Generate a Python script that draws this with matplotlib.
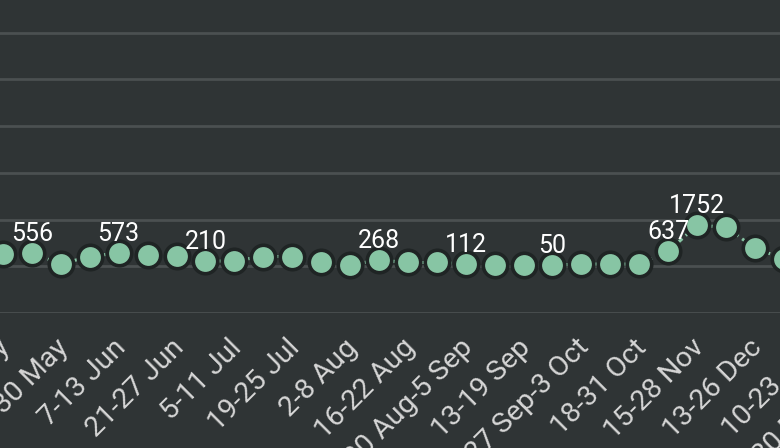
import matplotlib
matplotlib.use("Agg")
import matplotlib.pyplot as plt
import matplotlib.transforms as mtransforms

# ---- data ----
tick_labels = ["10-16 May", "24-30 May", "7-13 Jun", "21-27 Jun", "5-11 Jul",
               "19-25 Jul", "2-8 Aug", "16-22 Aug", "30 Aug-5 Sep", "13-19 Sep",
               "27 Sep-3 Oct", "18-31 Oct", "15-28 Nov", "13-26 Dec", "10-23 Jan",
               "20 Mar-2 Apr"]
values = [532, 556, 106, 417, 573, 502, 447, 210, 234, 417, 417, 162, 64, 268,
          162, 162, 112, 64, 64, 50, 94, 94, 94, 637, 1752, 1680, 774, 320]
labelled_idx = [1, 4, 7, 13, 16, 19, 23, 24]
grid_levels = [-2000, 0, 2000, 4000, 6000, 8000, 10000]

BG = "#2f3435"
GREEN = "#87c5a4"
GRID = "#4b5051"

W, H = 780, 448
fig = plt.figure(figsize=(W / 100, H / 100), dpi=100, facecolor=BG)

step = 28.92
x0_px = 3.0
xmin, xmax = -1, 31
left_px = x0_px + step * xmin
right_px = x0_px + step * xmax
top_px, bottom_px = 0, 313
ax = fig.add_axes([left_px / W, (H - bottom_px) / H,
                   (right_px - left_px) / W, (bottom_px - top_px) / H])
ax.set_facecolor(BG)
ax.set_xlim(xmin, xmax)
ax.set_ylim(-2000, 11400)

for s in ax.spines.values():
    s.set_visible(False)

for g in grid_levels:
    ax.axhline(g, color=GRID, lw=2.0, zorder=1)

xs = list(range(len(values)))
ax.plot(xs, values, color=GREEN, lw=2.2, linestyle=(0, (1.5, 1.5)), zorder=2,
        clip_on=False)
ax.plot(xs, values, linestyle="none", marker="o", markersize=17.6,
        markerfacecolor=GREEN, markeredgecolor="#1f2424", markeredgewidth=2.6,
        zorder=3, clip_on=False)

for i in labelled_idx:
    ax.annotate(str(values[i]), (xs[i], values[i]), xytext=(0, 8.6),
                textcoords="offset points", ha="center", va="baseline",
                color="white", fontsize=18, family="Roboto", zorder=5)

tick_pos = list(range(0, 2 * len(tick_labels), 2))
ax.set_xticks(tick_pos)
ax.set_xticklabels(tick_labels, rotation=45, ha="right", va="center",
                   rotation_mode="anchor", color="#d6d6d6", fontsize=20.5,
                   family="Roboto")
ax.tick_params(axis="x", length=0, pad=22)
ax.set_yticks([])

shift = mtransforms.ScaledTranslation(3 / 100, 0, fig.dpi_scale_trans)
for lbl in ax.get_xticklabels():
    lbl.set_transform(lbl.get_transform() + shift)

fig.savefig("out.png", dpi=100, facecolor=BG)
